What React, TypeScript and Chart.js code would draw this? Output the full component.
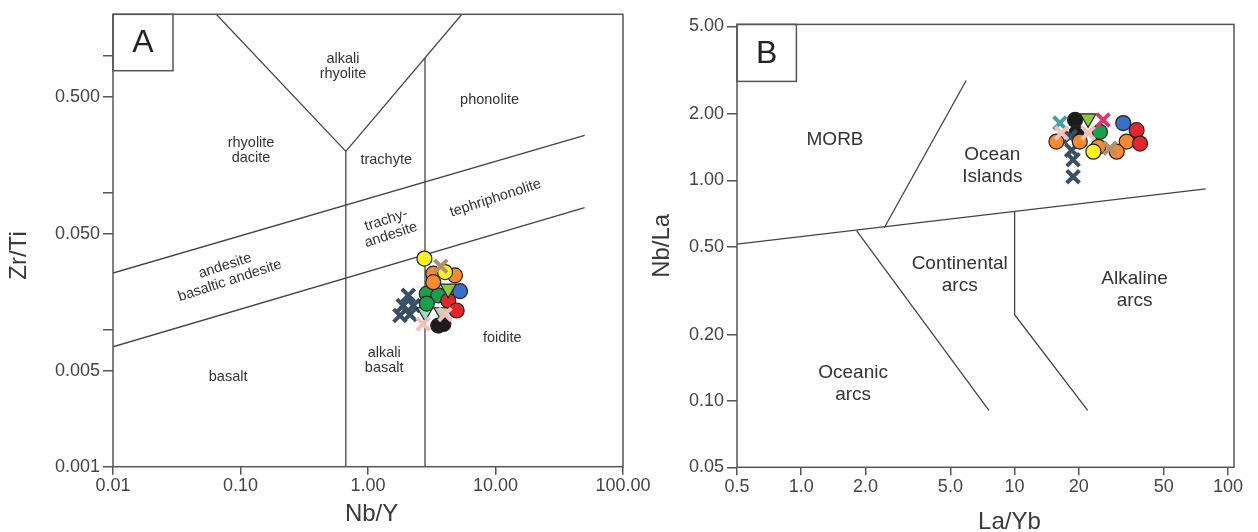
import { useEffect, useRef } from 'react';
import { Chart, registerables } from 'chart.js';

Chart.register(...registerables);

const FONT = "'Liberation Sans', Arial, Helvetica, sans-serif";

// ================= Panel A : Zr/Ti vs Nb/Y =================
const aXTickValues = [0.01, 0.1, 1, 10, 100];
const aXTickLabels = ['0.01', '0.10', '1.00', '10.00', '100.00'];
const aYTickValues = [0.001, 0.005, 0.01, 0.05, 0.1, 0.5, 1];
const aYTickLabels = ['0.001', '0.005', '', '0.050', '', '0.500', ''];

// field boundaries [Nb/Y, Zr/Ti]
const aBoundaryVLeft = [[0.0646, 2.0], [0.67, 0.2]];
const aBoundaryVRight = [[0.67, 0.2], [5.45, 2.0]];
const aBoundaryNbY067 = [[0.67, 0.2], [0.67, 0.001]];
const aBoundaryNbY28 = [[2.8, 0.96], [2.8, 0.001]];
const aBoundaryUpper = [[0.01, 0.0259], [50, 0.262]];
const aBoundaryLower = [[0.01, 0.0075], [50, 0.0776]];

// samples [Nb/Y, Zr/Ti]
const aSlateX = [[2.07, 0.0178], [1.89, 0.015], [2.27, 0.015], [1.78, 0.0127], [2.13, 0.0129]];
const aBlack = [[3.56, 0.0107], [3.9, 0.011]];
const aMintTri = [[2.8, 0.0134], [3.78, 0.0134]];
const aGreen = [[2.89, 0.0183], [3.56, 0.0178], [2.89, 0.0155]];
const aRed = [[4.26, 0.0163], [4.96, 0.0138]];
const aBlue = [[5.27, 0.0191]];
const aOrange = [[3.25, 0.0256], [4.81, 0.0249], [3.25, 0.0222]];
const aYellow = [[2.77, 0.033], [4.02, 0.0263]];
const aLimeTri = [[4.26, 0.0199]];
const aPinkX = [[2.71, 0.011], [4.02, 0.0129]];
const aTanX = [[3.72, 0.029]];

const aRegionNames = [
  'alkali\nrhyolite', 'phonolite', 'rhyolite\ndacite', 'trachyte', 'trachy-\nandesite',
  'tephriphonolite', 'andesite\nbasaltic andesite', 'basalt', 'alkali\nbasalt', 'foidite',
];
const aRegionAt = [
  [0.637, 0.83], [8.98, 0.47], [0.121, 0.203], [1.39, 0.173], [1.45, 0.0557],
  [10.0, 0.091], [0.079, 0.0258], [0.08, 0.00454], [1.34, 0.00594], [11.3, 0.00865],
];
const aRegionTilt = [0, 0, 0, 0, -18, -18, -18, 0, 0, 0];

// ================= Panel B : Nb/La vs La/Yb =================
const bXTickValues = [0.5, 1, 2, 5, 10, 20, 50, 100];
const bXTickLabels = ['0.5', '1.0', '2.0', '5.0', '10', '20', '50', '100'];
const bYTickValues = [0.05, 0.1, 0.2, 0.5, 1, 2, 5];
const bYTickLabels = ['0.05', '0.10', '0.20', '0.50', '1.00', '2.00', '5.00'];

// field boundaries [La/Yb, Nb/La]
const bBoundaryMain = [[0.5, 0.514], [78.7, 0.915]];
const bBoundaryMorbOib = [[2.45, 0.61], [5.93, 2.84]];
const bBoundaryOceanicCont = [[1.82, 0.59], [7.58, 0.0907]];
const bBoundaryContAlk = [[10, 0.722], [10, 0.246], [22.0, 0.0907]];

// samples [La/Yb, Nb/La]
const bBlack = [[19.2, 1.88], [19.5, 1.64]];
const bSlateX = [[18.2, 1.58], [18.5, 1.37], [18.8, 1.24], [18.8, 1.04]];
const bOrange = [[15.7, 1.5], [20.2, 1.5], [24.7, 1.42], [33.5, 1.5], [30.1, 1.35]];
const bRed = [[37.3, 1.69], [38.7, 1.47]];
const bBlue = [[32.3, 1.82]];
const bGreen = [[25.1, 1.66]];
const bYellow = [[23.4, 1.35]];
const bTanX = [[28.0, 1.4]];
const bLimeTri = [[22.1, 1.91]];
const bTealX = [[16.3, 1.82]];
const bPinkX = [[16.6, 1.64], [22.1, 1.64]];
const bCrimsonX = [[26.0, 1.88]];

const bRegionNames = ['MORB', 'Ocean\nIslands', 'Continental\narcs', 'Alkaline\narcs', 'Oceanic\narcs'];
const bRegionAt = [[1.44, 1.53], [7.86, 1.17], [5.53, 0.374], [36.5, 0.319], [1.75, 0.12]];
const bRegionTilt = [0, 0, 0, 0, 0];

// ================= styles =================
const COL = {
  yellow: '#fff21f', orange: '#f58b2e', green: '#1c9f4c', red: '#e3262b', blue: '#3b6fc6',
  black: '#1c1c1c', lime: '#8dc63f', mint: '#a3d9bb', slate: '#394f64', pink: '#f2c0ba',
  tan: '#b48f6b', teal: '#4a9fa5', crimson: '#d9386f',
};

type Kind = 'circle' | 'tri' | 'cross';
type Series = { pts: number[][]; kind: Kind; color: string };

function pointDataset(s: Series, order: number) {
  const data = s.pts.map(([x, y]) => ({ x, y }));
  const base: any = { data, showLine: false, order, pointHoverRadius: undefined };
  if (s.kind === 'circle') {
    return { ...base, pointStyle: 'circle', pointRadius: 7.5, pointHoverRadius: 7.5,
      pointBackgroundColor: s.color, pointBorderColor: '#222', pointBorderWidth: 1.2 };
  }
  if (s.kind === 'tri') {
    return { ...base, pointStyle: 'triangle', pointRotation: 180, pointRadius: 9, pointHoverRadius: 9,
      pointBackgroundColor: s.color, pointBorderColor: '#222', pointBorderWidth: 1.2 };
  }
  return { ...base, pointStyle: 'crossRot', pointRadius: 9, pointHoverRadius: 9,
    pointBackgroundColor: s.color, pointBorderColor: s.color, pointBorderWidth: 4 };
}

type Panel = {
  letter: string; xTitle: string; yTitle: string;
  xMin: number; xMax: number; yMin: number; yMax: number;
  xTicks: number[]; xLabels: string[]; yTicks: number[]; yLabels: string[];
  lines: number[][][]; series: Series[];
  regions: string[]; regionAt: number[][]; regionTilt: number[];
  padding: { left: number; top: number; right: number; bottom: number };
  yAxisWidth: number; xAxisHeight: number; box: number[];
  xTitleOff: number[]; yTitleOff: number[]; labelSize: number; labelLine: number;
};

function axis(min: number, max: number, values: number[], labels: string[], size: number, isX: boolean) {
  return {
    type: 'logarithmic', min, max,
    afterBuildTicks: (s: any) => { s.ticks = values.map((v) => ({ value: v })); },
    afterFit: (s: any) => { if (isX) s.height = size; else s.width = size; },
    ticks: {
      autoSkip: false, maxRotation: 0, minRotation: 0, padding: isX ? 1 : 3,
      color: '#444', font: { family: FONT, size: 18 },
      callback: (_v: any, i: number) => labels[i],
    },
    grid: { display: true, drawOnChartArea: false, drawTicks: true, tickLength: isX ? 8 : 10, color: '#555', lineWidth: 1.5 },
    border: { display: false },
    title: { display: false },
  };
}

function makeDecor(p: Panel) {
  return {
    id: 'decor' + p.letter,
    beforeDatasetsDraw(chart: any) {
      const { ctx, scales } = chart;
      ctx.save();
      ctx.fillStyle = '#333';
      ctx.textAlign = 'center';
      ctx.textBaseline = 'middle';
      ctx.font = `${p.labelSize}px ${FONT}`;
      p.regions.forEach((text, i) => {
        const [vx, vy] = p.regionAt[i];
        const x = scales.x.getPixelForValue(vx);
        const y = scales.y.getPixelForValue(vy);
        const rows = text.split('\n');
        ctx.save();
        ctx.translate(x, y);
        ctx.rotate((p.regionTilt[i] * Math.PI) / 180);
        rows.forEach((r, k) => ctx.fillText(r, 0, (k - (rows.length - 1) / 2) * p.labelLine));
        ctx.restore();
      });
      ctx.restore();
    },
    afterDatasetsDraw(chart: any) {
      const { ctx, chartArea: a } = chart;
      ctx.save();
      ctx.strokeStyle = '#555';
      ctx.lineWidth = 1.5;
      ctx.strokeRect(a.left, a.top, a.right - a.left, a.bottom - a.top);
      ctx.strokeRect(a.left, a.top, p.box[0], p.box[1]);
      ctx.fillStyle = '#222';
      ctx.textAlign = 'center';
      ctx.textBaseline = 'middle';
      ctx.font = `32px ${FONT}`;
      ctx.fillText(p.letter, a.left + p.box[0] / 2, a.top + p.box[1] / 2 + 1);
      ctx.font = `24px ${FONT}`;
      ctx.fillStyle = '#3a3a3a';
      ctx.fillText(p.xTitle, (a.left + a.right) / 2 + p.xTitleOff[0], a.bottom + p.xTitleOff[1]);
      ctx.translate(a.left + p.yTitleOff[0], (a.top + a.bottom) / 2 + p.yTitleOff[1]);
      ctx.rotate(-Math.PI / 2);
      ctx.fillText(p.yTitle, 0, 0);
      ctx.restore();
    },
  };
}

function buildConfig(p: Panel): any {
  const datasets: any[] = [];
  p.lines.forEach((l) =>
    datasets.push({
      data: l.map(([x, y]) => ({ x, y })), showLine: true, borderColor: '#444', borderWidth: 1.3,
      pointRadius: 0, pointHoverRadius: 0, fill: false, tension: 0, order: 100,
    }),
  );
  p.series.forEach((s, i) => datasets.push(pointDataset(s, 50 - i)));
  return {
    type: 'scatter',
    data: { datasets },
    options: {
      responsive: false, maintainAspectRatio: false, animation: false, devicePixelRatio: 1, events: [],
      layout: { padding: p.padding },
      plugins: { legend: { display: false }, tooltip: { enabled: false } },
      scales: {
        x: axis(p.xMin, p.xMax, p.xTicks, p.xLabels, p.xAxisHeight, true),
        y: axis(p.yMin, p.yMax, p.yTicks, p.yLabels, p.yAxisWidth, false),
      },
    },
    plugins: [makeDecor(p)],
  };
}

const panelA: Panel = {
  letter: 'A', xTitle: 'Nb/Y', yTitle: 'Zr/Ti',
  xMin: 0.01, xMax: 100, yMin: 0.001, yMax: 2,
  xTicks: aXTickValues, xLabels: aXTickLabels, yTicks: aYTickValues, yLabels: aYTickLabels,
  lines: [aBoundaryVLeft, aBoundaryVRight, aBoundaryNbY067, aBoundaryNbY28, aBoundaryUpper, aBoundaryLower],
  series: [
    { pts: aSlateX, kind: 'cross', color: COL.slate },
    { pts: aBlack, kind: 'circle', color: COL.black },
    { pts: aMintTri, kind: 'tri', color: COL.mint },
    { pts: aGreen, kind: 'circle', color: COL.green },
    { pts: aRed, kind: 'circle', color: COL.red },
    { pts: aBlue, kind: 'circle', color: COL.blue },
    { pts: aOrange, kind: 'circle', color: COL.orange },
    { pts: aYellow, kind: 'circle', color: COL.yellow },
    { pts: aLimeTri, kind: 'tri', color: COL.lime },
    { pts: aPinkX, kind: 'cross', color: COL.pink },
    { pts: aTanX, kind: 'cross', color: COL.tan },
  ],
  regions: aRegionNames, regionAt: aRegionAt, regionTilt: aRegionTilt,
  padding: { left: 0, top: 14.3, right: 77, bottom: 0 },
  yAxisWidth: 113, xAxisHeight: 65.3, box: [60, 56.4],
  xTitleOff: [3.6, 48.1], yTitleOff: [-94, 15], labelSize: 14.5, labelLine: 15.6,
};

const panelB: Panel = {
  letter: 'B', xTitle: 'La/Yb', yTitle: 'Nb/La',
  xMin: 0.5, xMax: 106.7, yMin: 0.05, yMax: 5.1,
  xTicks: bXTickValues, xLabels: bXTickLabels, yTicks: bYTickValues, yLabels: bYTickLabels,
  lines: [bBoundaryMain, bBoundaryMorbOib, bBoundaryOceanicCont, bBoundaryContAlk],
  series: [
    { pts: bBlack, kind: 'circle', color: COL.black },
    { pts: bSlateX, kind: 'cross', color: COL.slate },
    { pts: bOrange, kind: 'circle', color: COL.orange },
    { pts: bRed, kind: 'circle', color: COL.red },
    { pts: bBlue, kind: 'circle', color: COL.blue },
    { pts: bGreen, kind: 'circle', color: COL.green },
    { pts: bYellow, kind: 'circle', color: COL.yellow },
    { pts: bTanX, kind: 'cross', color: COL.tan },
    { pts: bLimeTri, kind: 'tri', color: COL.lime },
    { pts: bTealX, kind: 'cross', color: COL.teal },
    { pts: bPinkX, kind: 'cross', color: COL.pink },
    { pts: bCrimsonX, kind: 'cross', color: COL.crimson },
  ],
  regions: bRegionNames, regionAt: bRegionAt, regionTilt: bRegionTilt,
  padding: { left: 0, top: 24.4, right: 24, bottom: 0 },
  yAxisWidth: 108, xAxisHeight: 64.7, box: [59.4, 57],
  xTitleOff: [23.9, 54.7], yTitleOff: [-74.3, 0], labelSize: 19, labelLine: 21.8,
};

export default function App() {
  const refA = useRef<HTMLCanvasElement>(null);
  const refB = useRef<HTMLCanvasElement>(null);
  useEffect(() => {
    const a = new Chart(refA.current as HTMLCanvasElement, buildConfig(panelA));
    const b = new Chart(refB.current as HTMLCanvasElement, buildConfig(panelB));
    return () => {
      a.destroy();
      b.destroy();
    };
  }, []);
  return (
    <div style={{ position: 'absolute', left: 0, top: 0, width: 1258, height: 532, background: '#fff', overflow: 'hidden' }}>
      <canvas ref={refA} width={700} height={532} style={{ position: 'absolute', left: 0, top: 0, width: 700, height: 532 }} />
      <canvas ref={refB} width={629} height={532} style={{ position: 'absolute', left: 629, top: 0, width: 629, height: 532 }} />
    </div>
  );
}
